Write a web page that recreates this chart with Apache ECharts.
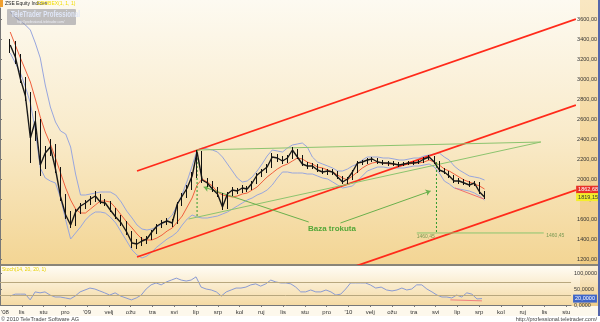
<!DOCTYPE html>
<html><head><meta charset="utf-8">
<script src="https://cdn.jsdelivr.net/npm/echarts@6/dist/echarts.min.js"></script>
<style>html,body{margin:0;padding:0;background:#fff}#c{width:600px;height:322px}</style>
</head><body><div id="c"></div><script>
// ---- data ----
const monthLabels = ["'08","lis","stu","pro","'09","velj","ožu","tra","svi","lip","srp","kol","ruj","lis","stu","pro","'10","velj","ožu","tra","svi","lip","srp","kol","ruj","lis","stu"];
const firstWeek = '2008-09-15';
const open = [3300,3340,3220,3000,2830,2410,2580,2140,2260,2320,
2100,1820,1640,1540,1670,1730,1760,1800,1830,1770,
1760,1690,1620,1560,1470,1360,1350,1380,1400,1470,
1530,1560,1580,1560,1750,1830,1910,2030,2270,1990,
1960,1900,1850,1720,1850,1890,1880,1910,1900,1960,
2040,2080,2120,2220,2210,2180,2210,2290,2220,2150,
2130,2130,2090,2070,2080,2070,2020,1970,2000,2070,
2160,2170,2190,2200,2170,2160,2160,2150,2140,2150,
2160,2160,2170,2200,2220,2170,2090,2070,2030,1980,
1980,1960,1940,1960,1870];
const close = [3340,3220,3000,2830,2410,2580,2140,2260,2320,2100,
1820,1640,1540,1670,1730,1760,1800,1830,1770,1760,
1690,1620,1560,1470,1360,1350,1380,1400,1470,1530,
1560,1580,1560,1750,1830,1910,2030,2270,1990,1960,
1900,1850,1720,1850,1890,1880,1910,1900,1960,2040,
2080,2120,2220,2210,2180,2210,2290,2220,2150,2130,
2130,2090,2070,2080,2070,2020,1970,2000,2070,2160,
2170,2190,2200,2170,2160,2160,2150,2140,2150,2160,
2160,2170,2200,2220,2170,2090,2070,2030,1980,1980,
1960,1940,1960,1870,1819.15];
const low = [3260,3150,2960,2780,2160,2380,2030,2100,2230,2060,
1780,1600,1510,1530,1650,1700,1740,1770,1750,1730,
1670,1600,1530,1440,1310,1300,1330,1350,1390,1450,
1510,1540,1520,1550,1730,1810,1890,2010,1960,1920,
1870,1820,1690,1700,1830,1850,1860,1870,1890,1950,
2020,2060,2110,2170,2150,2160,2200,2200,2130,2100,
2100,2070,2050,2040,2040,2000,1950,1950,1990,2060,
2140,2150,2170,2150,2140,2130,2130,2120,2130,2140,
2140,2150,2160,2190,2150,2070,2050,2010,1960,1950,
1940,1920,1930,1850,1800];
const high = [3400,3380,3250,3020,2870,2680,2600,2330,2400,2350,
2120,1850,1680,1700,1760,1790,1830,1880,1850,1800,
1780,1710,1640,1580,1480,1400,1420,1430,1490,1550,
1590,1610,1600,1770,1860,1940,2070,2290,2280,2010,
1980,1920,1860,1870,1920,1910,1940,1930,1980,2060,
2100,2150,2260,2250,2230,2240,2320,2300,2240,2170,
2160,2150,2110,2100,2100,2080,2030,2020,2090,2180,
2190,2210,2220,2210,2190,2180,2180,2170,2170,2180,
2180,2190,2220,2240,2230,2180,2110,2080,2040,2010,
2000,1980,1980,1970,1880];
const maLine = [3470,3340,3210,3090,2970,2800,2620,2470,2350,2210,
2060,1910,1790,1700,1660,1660,1700,1740,1780,1780,
1770,1710,1640,1570,1510,1450,1400,1390,1390,1410,
1440,1480,1510,1570,1630,1720,1810,1940,2000,1970,
1930,1870,1840,1830,1820,1830,1850,1860,1890,1920,
1970,2020,2060,2100,2130,2150,2180,2210,2200,2170,
2150,2120,2110,2090,2070,2040,2010,1990,2030,2070,
2110,2140,2160,2170,2160,2150,2150,2140,2140,2150,
2160,2160,2170,2190,2170,2140,2100,2080,2050,2020,
1990,1970,1950,1930,1900];
const bandUpper = [3670,3620,3580,3540,3490,3360,3210,2940,2720,2570,
2480,2450,2320,2050,1840,1840,1850,1860,1870,1870,
1870,1840,1770,1680,1610,1540,1500,1490,1500,1520,
1550,1590,1640,1740,1850,1980,2130,2290,2310,2300,
2290,2270,2220,2150,2080,2010,1970,1980,2020,2080,
2150,2230,2290,2280,2270,2310,2340,2350,2360,2320,
2220,2170,2150,2130,2110,2080,2080,2100,2130,2150,
2190,2220,2220,2220,2210,2210,2200,2190,2190,2200,
2210,2210,2230,2240,2250,2260,2220,2190,2130,2090,
2060,2030,2020,2010,1990];
const bandLower = [3260,3160,3060,2920,2760,2490,2110,2010,1980,1960,
1810,1590,1400,1460,1520,1590,1640,1670,1670,1660,
1620,1560,1470,1380,1290,1240,1210,1230,1270,1320,
1360,1400,1430,1470,1540,1600,1640,1620,1610,1610,
1620,1630,1650,1670,1700,1730,1760,1790,1810,1840,
1860,1890,1940,2010,2070,2070,2060,2060,2060,2050,
2050,2030,2010,2000,1970,1940,1910,1920,1930,1980,
2030,2080,2100,2120,2120,2110,2110,2110,2110,2120,
2130,2130,2140,2150,2120,2060,1980,1950,1910,1900,
1890,1880,1860,1830,1790];
const oscValues = [28,34,34,34,16,41,38,41,31,25,
25,22,19,28,41,47,53,50,44,38,
31,38,28,22,16,22,31,50,63,69,
63,72,78,84,78,75,78,88,56,50,
47,41,28,41,47,53,53,56,63,66,
59,66,78,72,69,69,66,56,41,41,
47,41,41,47,41,31,34,50,69,69,
69,69,63,53,56,47,44,47,53,47,
50,63,63,50,41,31,25,25,22,31,
25,38,34,19,20];
const oscLevels = [70, 30];
const oscLast = 20;
const lastClose = 1819.15;
const maLast = 1862.68;
const redChannelTop = [['2009-03-09', 2080], ['2010-11-10', 3600]];
const redChannelMid = [['2009-03-09', 1220], ['2010-11-10', 2740]];
const redChannelLow = [['2009-12-10', 1057], ['2010-11-10', 1890]];
const triUpper = [['2009-06-01', 2290], ['2010-09-22', 2370]];
const triLower = [['2009-05-20', 1600], ['2010-09-22', 2370]];
const triHeight = [['2009-06-01', 2290], ['2009-06-01', 1615]];
const targetDrop = [['2010-04-29', 2170], ['2010-04-29', 1460.45]];
const targetLevel = [['2010-04-02', 1460.45], ['2010-09-26', 1460.45]];
const wedgeLine = [['2010-05-25', 1910], ['2010-07-04', 1800]];
const oscTrend = [['2010-05-22', 16], ['2010-07-05', 13]];
const arrow1 = [['2009-11-04', 1570], ['2009-06-10', 1920]];
const arrow2 = [['2009-12-18', 1560], ['2010-04-21', 1880]];
const baseLabel = ['2009-12-06', 1500, 'Baza trokuta'];

// ---- helpers ----
function monthPos(s){const p=s.split('-').map(Number);const dim=new Date(p[0],p[1],0).getDate();return (p[0]-2008)*12+(p[1]-9)+(p[2]-1)/dim;}
const weeks = close.map((_,i)=>new Date(Date.UTC(2008,8,15)+i*7*864e5).toISOString().slice(0,10));
const wt = weeks.map(monthPos);
const fmt2 = v => v.toFixed(2).replace('.',',');
const FONT = 'Liberation Sans';
const HIDDEN = 'rgba(0,0,0,0)';
function seg(points, color, width, type, gi){
  return {type:'line', xAxisIndex:gi||0, yAxisIndex:gi||0, data: points.map(p=>[monthPos(p[0]),p[1]]), symbol:'none',
    lineStyle:{color:color,width:width,type:type||'solid'}, silent:true, z:4, animation:false};
}
const XMAX = 26.22;
const valueBox = (bg, fg, extra) => Object.assign({show:true,position:'end',distance:2,fontSize:5.5,fontFamily:FONT,padding:[1,2],backgroundColor:bg,color:fg}, extra||{});

const chart = echarts.init(document.getElementById('c'), null, {renderer:'canvas'});
const option = {
  animation:false,
  backgroundColor:'#ffffff',
  grid:[{left:-8.4,right:21,top:8,height:256},{left:-8.4,right:21,top:266,height:39}],
  xAxis:[
    {type:'value',gridIndex:0,min:0,max:XMAX,interval:1,show:false,splitLine:{show:false}},
    {type:'value',gridIndex:1,min:0,max:XMAX,interval:1,splitLine:{show:false},
     axisLine:{show:true,lineStyle:{color:'#777',width:1}},
     axisTick:{show:true,length:2,lineStyle:{color:'#777'}},
     axisLabel:{showMinLabel:false,showMaxLabel:false,fontSize:6,fontFamily:FONT,color:'#333',margin:4,
       formatter:v=>{const r=Math.round(v);return Math.abs(v-r)<0.01&&r>0?(monthLabels[r]||''):'';}}}
  ],
  yAxis:[
    {type:'value',gridIndex:0,position:'right',min:1150,max:3710,splitNumber:13,minInterval:200,maxInterval:200,
     splitLine:{show:false},axisLine:{show:true,lineStyle:{color:'#777'}},axisTick:{show:true,length:2,lineStyle:{color:'#777'}},
     axisLabel:{showMinLabel:false,showMaxLabel:false,fontSize:5.5,fontFamily:FONT,color:'#333',margin:3,formatter:fmt2}},
    {type:'value',gridIndex:1,position:'right',min:0,max:122,interval:50,
     splitLine:{show:false},axisLine:{show:true,lineStyle:{color:'#777'}},axisTick:{show:true,length:2,lineStyle:{color:'#777'}},
     axisLabel:{showMaxLabel:false,fontSize:5.5,fontFamily:FONT,color:'#333',margin:3,formatter:v=>v.toFixed(4).replace('.',',')}}
  ],
  graphic:[
    {type:'rect',z:-10,silent:true,shape:{x:0,y:0,width:580,height:264},style:{fill:{type:'linear',x:0,y:0,x2:0,y2:1,colorStops:[{offset:0,color:'#fdfaf1'},{offset:0.5,color:'#f9ebcb'},{offset:1,color:'#f3d594'}]}}},
    {type:'rect',z:-10,silent:true,shape:{x:580,y:0,width:20,height:264},style:{fill:{type:'linear',x:0,y:0,x2:0,y2:1,colorStops:[{offset:0,color:'#f9e7c2'},{offset:1,color:'#f0cb82'}]}}},
    {type:'rect',z:-10,silent:true,shape:{x:0,y:264,width:600,height:2},style:{fill:'#8a8578'}},
    {type:'rect',z:-10,silent:true,shape:{x:0,y:266,width:580,height:40},style:{fill:{type:'linear',x:0,y:0,x2:0,y2:1,colorStops:[{offset:0,color:'#fffcf4'},{offset:1,color:'#f4d9a2'}]}}},
    {type:'rect',z:-10,silent:true,shape:{x:580,y:266,width:20,height:40},style:{fill:{type:'linear',x:0,y:0,x2:0,y2:1,colorStops:[{offset:0,color:'#fbefd6'},{offset:1,color:'#f0cd88'}]}}},
    {type:'rect',z:-10,silent:true,shape:{x:0,y:306,width:600,height:10},style:{fill:'#fdf8ec'}},
    {type:'rect',z:-10,silent:true,shape:{x:0,y:316,width:600,height:6},style:{fill:'#ffffff'}},
    {type:'rect',z:20,silent:true,shape:{x:598,y:0,width:2,height:316},style:{fill:'#5566aa'}},
    {type:'rect',z:20,silent:true,shape:{x:0,y:0,width:3,height:7},style:{fill:'#f0a030'}},
    {type:'text',z:20,silent:true,left:5,top:1,style:{text:'ZSE Equity Indices',fontSize:5,fontFamily:FONT,fill:'#222'}},
    {type:'text',z:20,silent:true,left:37,top:1,style:{text:'CROBEX(1, 1, 1)',fontSize:5,fontFamily:FONT,fill:'#f2dc00'}},
    {type:'rect',z:50,silent:true,shape:{x:7,y:9,width:69,height:16,r:1},style:{fill:'rgba(150,150,158,0.6)'}},
    {type:'text',z:51,silent:true,x:11,y:10,scaleX:0.72,style:{text:'TeleTrader Professional',fontSize:8.5,fontWeight:'bold',fontFamily:FONT,fill:'#dfe6f7'}},
    {type:'text',z:51,silent:true,x:17,y:20,scaleX:0.8,style:{text:'http://professional.teletrader.com/',fontSize:4,fontFamily:FONT,fill:'#eef0f8'}},
    {type:'text',z:20,silent:true,left:2,top:267,style:{text:'Stoch(14, 20, 20, 1)',fontSize:5,fontFamily:FONT,fill:'#e8d000'}},
    {type:'text',z:20,silent:true,left:1,top:309,style:{text:"'08",fontSize:6,fontFamily:FONT,fill:'#333'}},
    {type:'text',z:20,silent:true,left:1,top:316,style:{text:'© 2010 TeleTrader Software AG',fontSize:5.5,fontFamily:FONT,fill:'#444'}},
    {type:'text',z:20,silent:true,right:3,top:316,style:{text:'http://professional.teletrader.com/',fontSize:5.5,fontFamily:FONT,fill:'#444'}}
  ],
  series:[
    {type:'line',name:'upper',data:wt.map((t,i)=>[t,bandUpper[i]]),symbol:'none',lineStyle:{color:'#98a6de',width:1},silent:true,z:2},
    {type:'line',name:'lower',data:wt.map((t,i)=>[t,bandLower[i]]),symbol:'none',lineStyle:{color:'#98a6de',width:1},silent:true,z:2},
    {type:'line',name:'ma',data:wt.map((t,i)=>[t,maLine[i]]),symbol:'none',lineStyle:{color:'#f0603e',width:1},silent:true,z:3,
     markLine:{silent:true,symbol:'none',lineStyle:{color:HIDDEN,width:0},
       label:valueBox('#e8322a','#fff',{formatter:p=>fmt2(p.value),offset:[0,-3]}),
       data:[{yAxis:maLast}]}},
    {type:'candlestick',name:'price',data:wt.map((t,i)=>[t,open[i],close[i],low[i],high[i]]),encode:{x:0,y:[1,2,3,4]},
     barWidth:1,itemStyle:{color:'#111',color0:'#111',borderColor:'#111',borderColor0:'#111',borderWidth:1},silent:true,z:5},
    {type:'line',name:'close',data:wt.map((t,i)=>[t,close[i]]),symbol:'none',lineStyle:{color:'#1a1a1a',width:1.4},silent:true,z:5,
     markLine:{silent:true,symbol:'none',lineStyle:{color:HIDDEN,width:0},
       label:valueBox('#f4ee2a','#333',{formatter:p=>fmt2(p.value)}),
       data:[{yAxis:lastClose}]}},
    seg(redChannelTop,'#ff2a1a',1.8),
    seg(redChannelMid,'#ff2a1a',1.8),
    seg(redChannelLow,'#ff2a1a',1.8),
    seg(triUpper,'#8cc46e',1),
    seg(triLower,'#8cc46e',1),
    seg(triHeight,'#2f9a2f',1,[2,2]),
    seg(targetDrop,'#2f9a2f',1,[2,2]),
    seg(wedgeLine,'#f07070',1),
    Object.assign(seg(targetLevel,'#8cc46e',1),{
      markLine:{silent:true,symbol:['none','arrow'],symbolSize:5,lineStyle:{color:'#6ab04c',width:1,type:'solid'},label:{show:false},
        data:[arrow1,arrow2].map(a=>[{coord:[monthPos(a[0][0]),a[0][1]]},{coord:[monthPos(a[1][0]),a[1][1]]}])}}),
    {type:'scatter',silent:true,z:6,symbolSize:1,itemStyle:{color:HIDDEN},
     data:[
       {value:[monthPos(baseLabel[0]),baseLabel[1]],label:{show:true,position:'inside',formatter:baseLabel[2],fontSize:8,fontWeight:'bold',fontFamily:FONT,color:'#2b9a1e'}},
       {value:[monthPos(targetLevel[0][0]),targetLevel[0][1]],label:{show:true,position:'bottom',align:'left',distance:1,formatter:fmt2(targetLevel[0][1]),fontSize:5,fontFamily:FONT,color:'#5a8a40'}},
       {value:[monthPos(targetLevel[1][0]),targetLevel[1][1]],label:{show:true,position:'right',distance:2,offset:[0,3],formatter:fmt2(targetLevel[1][1]),fontSize:5,fontFamily:FONT,color:'#5a8a40'}}
     ]},
    {type:'line',name:'osc',xAxisIndex:1,yAxisIndex:1,data:wt.map((t,i)=>[t,oscValues[i]]),symbol:'none',lineStyle:{color:'#8a9bd4',width:1},silent:true,z:4,
     markLine:{silent:true,symbol:'none',label:{show:false},lineStyle:{color:'#b8a77e',width:1,type:'solid'},
       data:oscLevels.map(v=>({yAxis:v}))}},
    {type:'line',name:'oscLast',xAxisIndex:1,yAxisIndex:1,data:[],symbol:'none',silent:true,z:6,
     markLine:{silent:true,symbol:'none',lineStyle:{color:HIDDEN,width:0},
       label:valueBox('#3f66c8','#fff',{formatter:p=>p.value.toFixed(4).replace('.',',')}),
       data:[{yAxis:oscLast}]}},
    seg(oscTrend,'#f08080',1,'solid',1)
  ]
};
chart.setOption(option);
</script></body></html>
